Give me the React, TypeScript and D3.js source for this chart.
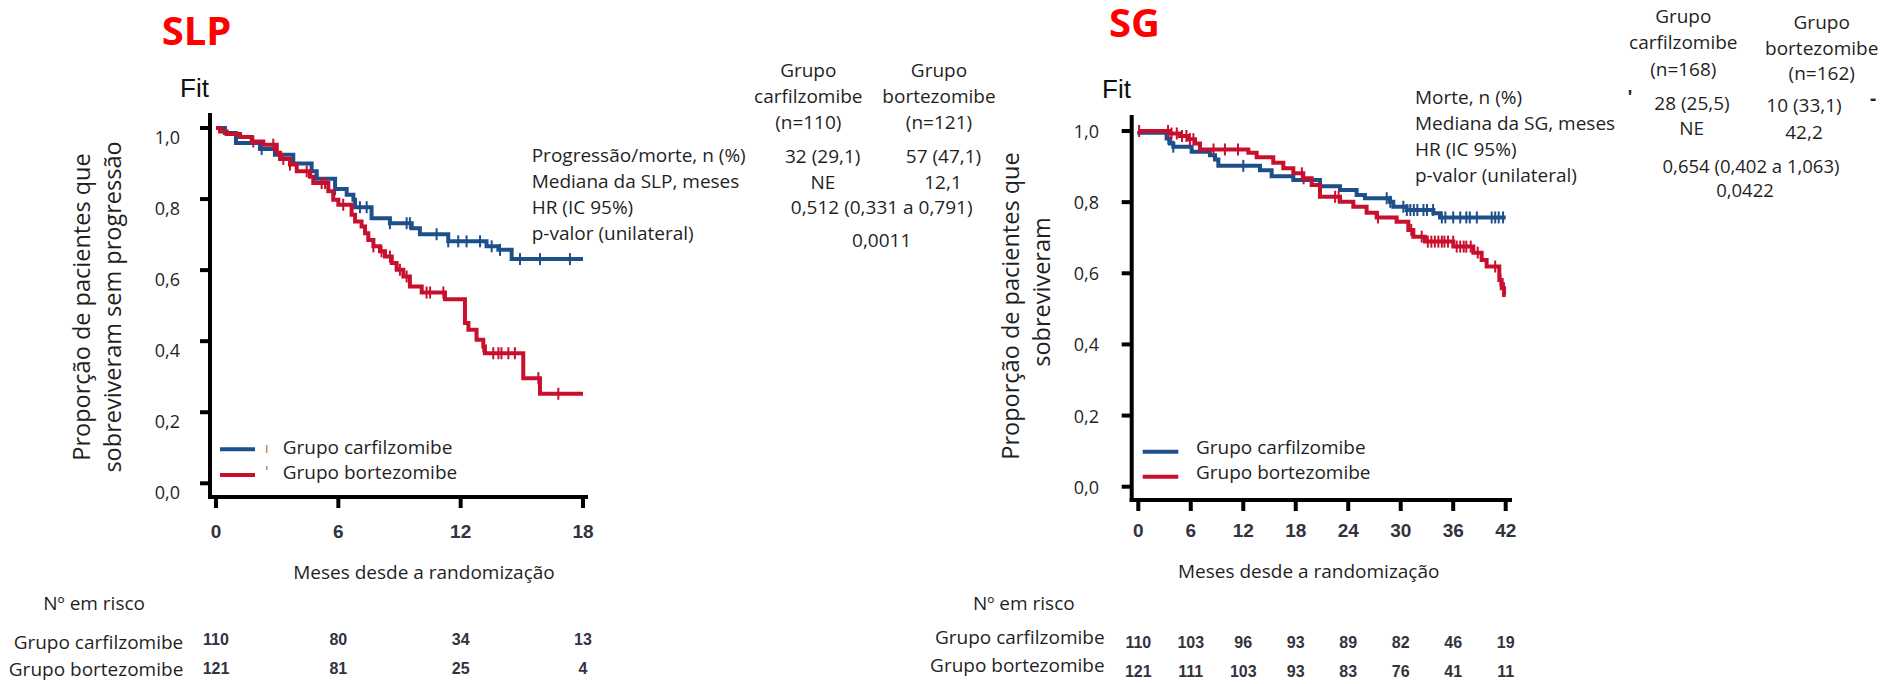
import React from "react";
import * as d3 from "d3";

const width = 1901;
const height = 684;

const BLUE = "#1d4f8b";
const RED = "#c8102e";
const INK = "#1f1f1f";
const SANS = "'Open Sans', 'Noto Sans', sans-serif";
const ARIAL = "'Liberation Sans', Arial, sans-serif";

// ---- SLP (progression-free survival) ----
const slpMonths = [0, 6, 12, 18];
const slpCarfSteps: [number, number][] = [
  [0, 1], [0.44, 0.986], [0.98, 0.958], [2.16, 0.941], [2.89, 0.925], [3.79, 0.9],
  [4.69, 0.878], [4.94, 0.857], [5.84, 0.828], [6.41, 0.812], [6.74, 0.798], [6.82, 0.777],
  [7.63, 0.746], [8.53, 0.732], [9.6, 0.718], [10.0, 0.701], [11.39, 0.681], [13.27, 0.667],
  [13.85, 0.657], [14.5, 0.631], [18, 0.631],
];
const slpBortSteps: [number, number][] = [
  [0, 1], [0.2, 0.99], [0.52, 0.983], [1.18, 0.975], [1.75, 0.962], [2.32, 0.953],
  [2.98, 0.93], [3.14, 0.913], [3.63, 0.897], [3.96, 0.878], [4.61, 0.863], [4.77, 0.845],
  [5.51, 0.822], [5.75, 0.798], [6.0, 0.784], [6.65, 0.756], [6.82, 0.737], [7.14, 0.723],
  [7.31, 0.704], [7.47, 0.685], [7.72, 0.667], [8.04, 0.653], [8.29, 0.638], [8.62, 0.62],
  [8.86, 0.601], [9.19, 0.582], [9.51, 0.554], [10.09, 0.537], [11.23, 0.518], [12.21, 0.451],
  [12.38, 0.432], [12.78, 0.404], [13.11, 0.385], [13.19, 0.366], [15.07, 0.296], [15.89, 0.252],
  [18, 0.252],
];
const slpCarfCensors = [2.24, 5.84, 7.06, 7.39, 8.53, 9.35, 9.51, 10.82, 11.39, 11.88, 12.29, 12.95, 13.52, 13.93, 14.91, 15.89, 17.36];
const slpBortCensors = [1.83, 2.81, 3.3, 3.63, 4.45, 5.18, 5.35, 6.24, 7.72, 8.12, 8.53, 9.02, 9.35, 10.33, 10.5, 11.15, 13.11, 13.6, 13.85, 14.0, 14.34, 14.66, 15.81, 16.79];
const slpRiskCarf = [110, 80, 34, 13];
const slpRiskBort = [121, 81, 25, 4];

// ---- SG (overall survival) ----
const sgMonths = [0, 6, 12, 18, 24, 30, 36, 42];
const sgCarfSteps: [number, number][] = [
  [0, 1], [0.1, 0.995], [3.24, 0.979], [3.62, 0.965], [4.0, 0.956], [6.1, 0.942], [8.19, 0.932],
  [8.77, 0.92], [9.15, 0.902], [13.91, 0.89], [15.24, 0.873], [17.72, 0.862], [20.77, 0.845],
  [23.06, 0.834], [24.96, 0.82], [25.91, 0.811], [28.77, 0.801], [29.15, 0.787], [30.68, 0.778],
  [33.73, 0.769], [34.49, 0.757], [42, 0.757],
];
const sgBortSteps: [number, number][] = [
  [0, 1], [3.62, 0.993], [4.76, 0.986], [5.72, 0.977], [6.48, 0.965], [7.05, 0.948], [12.58, 0.939],
  [13.53, 0.926], [15.43, 0.911], [16.58, 0.895], [17.72, 0.881], [18.86, 0.867], [19.82, 0.848],
  [20.77, 0.815], [23.06, 0.801], [24.58, 0.787], [26.1, 0.77], [27.25, 0.757], [29.53, 0.745],
  [30.87, 0.722], [31.44, 0.703], [32.77, 0.689], [36.01, 0.675], [38.3, 0.658], [39.25, 0.637],
  [39.82, 0.619], [41.27, 0.581], [41.54, 0.558], [41.81, 0.539], [42, 0.539],
];
const sgCarfCensors = [3.43, 4.0, 12.0, 28.4, 28.8, 30.3, 30.7, 31.1, 31.5, 31.9, 32.6, 33.0, 33.7, 34.7, 35.1, 36.0, 36.8, 37.5, 37.9, 38.7, 40.4, 40.8, 41.2, 41.7];
const sgBortCensors = [0.1, 3.4, 3.8, 4.4, 5.0, 5.5, 5.9, 6.3, 8.6, 9.9, 11.4, 18.7, 18.9, 22.5, 22.9, 27.4, 31.2, 32.4, 33.1, 33.5, 33.9, 34.3, 34.7, 35.0, 35.4, 36.0, 36.4, 36.8, 37.2, 37.5, 38.0, 38.8, 40.8, 41.4, 41.8];
const sgRiskCarf = [110, 103, 96, 93, 89, 82, 46, 19];
const sgRiskBort = [121, 111, 103, 93, 83, 76, 41, 11];

const yTicks = [0, 0.2, 0.4, 0.6, 0.8, 1.0];
const groupNames = ["Grupo carfilzomibe", "Grupo bortezomibe"];

const slpStatLabels = ["Progressão/morte, n (%)", "Mediana da SLP, meses", "HR (IC 95%)", "p-valor (unilateral)"];
const slpHeadCarf = ["Grupo", "carfilzomibe", "(n=110)"];
const slpHeadBort = ["Grupo", "bortezomibe", "(n=121)"];
const slpEvents = ["32 (29,1)", "57 (47,1)"];
const slpMedian = ["NE", "12,1"];
const slpHr = "0,512 (0,331 a 0,791)";
const slpP = "0,0011";

const sgStatLabels = ["Morte, n (%)", "Mediana da SG, meses", "HR (IC 95%)", "p-valor (unilateral)"];
const sgHeadCarf = ["Grupo", "carfilzomibe", "(n=168)"];
const sgHeadBort = ["Grupo", "bortezomibe", "(n=162)"];
const sgEvents = ["28 (25,5)", "10 (33,1)"];
const sgMedian = ["NE", "42,2"];
const sgHr = "0,654 (0,402 a 1,063)";
const sgP = "0,0422";

const survAt = (steps: [number, number][], t: number) => {
  let s = steps[0][1];
  for (const [tt, ss] of steps) {
    if (tt <= t) s = ss;
    else break;
  }
  return s;
};

const fmt = (v: number) => v.toFixed(1).replace(".", ",");

function Txt(props: any) {
  const { x, y, children, size = 19, anchor = "start", family = SANS, weight = 400, fill = INK } = props;
  return (
    <text x={x} y={y} fontSize={size} textAnchor={anchor} dominantBaseline="central" fontFamily={family} fontWeight={weight} fill={fill}>
      {children}
    </text>
  );
}

function KMPanel(p: any) {
  const { xs, ys, axisX, axisTop, axisY, axisEnd, months, series, labelDy, labelRight, monthLabelY } = p;
  const line = d3
    .line<[number, number]>()
    .x((d) => xs(d[0]))
    .y((d) => ys(d[1]))
    .curve(d3.curveStepAfter);
  return (
    <g>
      {series.map((sr: any) => (
        <g key={sr.name}>
          <path d={line(sr.steps) || ""} fill="none" stroke={sr.color} strokeWidth={4} />
          {sr.censors.map((c: number, i: number) => {
            const cy = ys(survAt(sr.steps, c));
            return <line key={i} x1={xs(c)} x2={xs(c)} y1={cy - 6} y2={cy + 6} stroke={sr.color} strokeWidth={2} />;
          })}
        </g>
      ))}
      <line x1={axisX} x2={axisX} y1={axisTop} y2={axisY + 2} stroke="#000" strokeWidth={4} />
      <line x1={axisX - 2} x2={axisEnd} y1={axisY} y2={axisY} stroke="#000" strokeWidth={4} />
      {yTicks.map((v) => (
        <g key={v}>
          <line x1={axisX - 10} x2={axisX} y1={ys(v)} y2={ys(v)} stroke="#000" strokeWidth={4} />
          <Txt x={labelRight} y={ys(v) + labelDy} anchor="end" size={18}>
            {fmt(v)}
          </Txt>
        </g>
      ))}
      {months.map((m: number) => (
        <g key={m}>
          <line x1={xs(m)} x2={xs(m)} y1={axisY} y2={axisY + 11} stroke="#000" strokeWidth={4} />
          <Txt x={xs(m)} y={monthLabelY} anchor="middle" family={ARIAL} weight={700} fill="#33333f">
            {m}
          </Txt>
        </g>
      ))}
    </g>
  );
}

function RotLabel({ x, y, lines, gap }: any) {
  return (
    <g>
      {lines.map((l: string, i: number) => (
        <text
          key={i}
          transform={`translate(${x + i * gap},${y[i]}) rotate(-90)`}
          textAnchor="middle"
          fontFamily={SANS}
          fontSize={23.5}
          fill={INK}
        >
          {l}
        </text>
      ))}
    </g>
  );
}

export default function App() {
  const xL = d3.scaleLinear().domain([0, 18]).range([216, 583]);
  const yL = d3.scaleLinear().domain([0, 1]).range([483.3, 128]);
  const xR = d3.scaleLinear().domain([0, 42]).range([1138.3, 1505.7]);
  const yR = d3.scaleLinear().domain([0, 1]).range([486.7, 131]);

  return (
    <svg width={width} height={height} style={{ position: "absolute", left: 0, top: 0, background: "#fff" }}>
      <rect width={width} height={height} fill="#fff" />

      {/* ---------- SLP panel ---------- */}
      <text x={196.5} y={45} textAnchor="middle" fontFamily={SANS} fontWeight={700} fontSize={40} fill="#ff0000">
        SLP
      </text>
      <text x={194.5} y={97} textAnchor="middle" fontFamily={ARIAL} fontSize={26} fill="#111">
        Fit
      </text>
      <RotLabel x={90} y={[307, 307]} gap={31} lines={["Proporção de pacientes que", "sobreviveram sem progressão"]} />
      <KMPanel
        xs={xL}
        ys={yL}
        axisX={210}
        axisTop={113}
        axisY={497}
        axisEnd={588}
        months={slpMonths}
        labelDy={9}
        labelRight={180}
        monthLabelY={531.7}
        series={[
          { name: "carf", steps: slpCarfSteps, censors: slpCarfCensors, color: BLUE },
          { name: "bort", steps: slpBortSteps, censors: slpBortCensors, color: RED },
        ]}
      />
      <line x1={220} x2={255} y1={449.3} y2={449.3} stroke={BLUE} strokeWidth={4} />
      <line x1={220} x2={255} y1={475} y2={475} stroke={RED} strokeWidth={4} />
      <line x1={266.7} x2={266.7} y1={445} y2={453} stroke="#c98a4b" strokeWidth={1.5} />
      <line x1={266.7} x2={266.7} y1={466} y2={470} stroke="#c98a4b" strokeWidth={1.5} />
      <Txt x={282.7} y={446.7}>{groupNames[0]}</Txt>
      <Txt x={282.7} y={471.7}>{groupNames[1]}</Txt>

      <Txt x={424} y={572} anchor="middle">Meses desde a randomização</Txt>
      <Txt x={43.3} y={603}>Nº em risco</Txt>
      <Txt x={183.3} y={642} anchor="end">{groupNames[0]}</Txt>
      <Txt x={183.3} y={669} anchor="end">{groupNames[1]}</Txt>
      {slpMonths.map((m, i) => (
        <g key={m}>
          <Txt x={xL(m)} y={639} anchor="middle" size={16} family={ARIAL} weight={700} fill="#33333f">{slpRiskCarf[i]}</Txt>
          <Txt x={xL(m)} y={668} anchor="middle" size={16} family={ARIAL} weight={700} fill="#33333f">{slpRiskBort[i]}</Txt>
        </g>
      ))}

      {slpStatLabels.map((s, i) => (
        <Txt key={s} x={531.7} y={155 + i * 26}>{s}</Txt>
      ))}
      {slpHeadCarf.map((s, i) => (
        <Txt key={"c" + i} x={808.3} y={70 + i * 25.8} anchor="middle">{s}</Txt>
      ))}
      {slpHeadBort.map((s, i) => (
        <Txt key={"b" + i} x={939} y={70 + i * 25.8} anchor="middle">{s}</Txt>
      ))}
      <Txt x={822.7} y={156} anchor="middle">{slpEvents[0]}</Txt>
      <Txt x={943.5} y={156} anchor="middle">{slpEvents[1]}</Txt>
      <Txt x={823} y={181.5} anchor="middle">{slpMedian[0]}</Txt>
      <Txt x={943} y={181.5} anchor="middle">{slpMedian[1]}</Txt>
      <Txt x={881.7} y={207} anchor="middle">{slpHr}</Txt>
      <Txt x={881.7} y={240} anchor="middle">{slpP}</Txt>

      {/* ---------- SG panel ---------- */}
      <text x={1134.5} y={37} textAnchor="middle" fontFamily={SANS} fontWeight={700} fontSize={40} fill="#ff0000">
        SG
      </text>
      <text x={1116.5} y={98} textAnchor="middle" fontFamily={ARIAL} fontSize={26} fill="#111">
        Fit
      </text>
      <RotLabel x={1019} y={[306, 292]} gap={31} lines={["Proporção de pacientes que", "sobreviveram"]} />
      <KMPanel
        xs={xR}
        ys={yR}
        axisX={1131.7}
        axisTop={115}
        axisY={500}
        axisEnd={1512}
        months={sgMonths}
        labelDy={0}
        labelRight={1099}
        monthLabelY={530}
        series={[
          { name: "carf", steps: sgCarfSteps, censors: sgCarfCensors, color: BLUE },
          { name: "bort", steps: sgBortSteps, censors: sgBortCensors, color: RED },
        ]}
      />
      <line x1={1142.7} x2={1178.3} y1={451.7} y2={451.7} stroke={BLUE} strokeWidth={4} />
      <line x1={1142.7} x2={1178.3} y1={476.7} y2={476.7} stroke={RED} strokeWidth={4} />
      <Txt x={1196} y={446.7}>{groupNames[0]}</Txt>
      <Txt x={1196} y={472.3}>{groupNames[1]}</Txt>

      <Txt x={1308.7} y={571} anchor="middle">Meses desde a randomização</Txt>
      <Txt x={973} y={603}>Nº em risco</Txt>
      <Txt x={1104.6} y={637} anchor="end">{groupNames[0]}</Txt>
      <Txt x={1104.6} y={665} anchor="end">{groupNames[1]}</Txt>
      {sgMonths.map((m, i) => (
        <g key={m}>
          <Txt x={xR(m)} y={642} anchor="middle" size={16} family={ARIAL} weight={700} fill="#33333f">{sgRiskCarf[i]}</Txt>
          <Txt x={xR(m)} y={671} anchor="middle" size={16} family={ARIAL} weight={700} fill="#33333f">{sgRiskBort[i]}</Txt>
        </g>
      ))}

      {sgStatLabels.map((s, i) => (
        <Txt key={s} x={1415} y={97 + i * 26}>{s}</Txt>
      ))}
      {sgHeadCarf.map((s, i) => (
        <Txt key={"c" + i} x={1683.3} y={16 + i * 26.3} anchor="middle">{s}</Txt>
      ))}
      {sgHeadBort.map((s, i) => (
        <Txt key={"b" + i} x={1821.7} y={21.7 + i * 25.8} anchor="middle">{s}</Txt>
      ))}
      <Txt x={1630} y={97} anchor="middle" weight={700}>'</Txt>
      <Txt x={1692} y={103} anchor="middle">{sgEvents[0]}</Txt>
      <Txt x={1804} y={105} anchor="middle">{sgEvents[1]}</Txt>
      <Txt x={1873} y={98} anchor="middle" weight={700}>-</Txt>
      <Txt x={1691.7} y={128.3} anchor="middle">{sgMedian[0]}</Txt>
      <Txt x={1804} y={131.7} anchor="middle">{sgMedian[1]}</Txt>
      <Txt x={1751} y={165} anchor="middle" size={18.5}>{sgHr}</Txt>
      <Txt x={1745} y={189} anchor="middle" size={18.5}>{sgP}</Txt>
    </svg>
  );
}
